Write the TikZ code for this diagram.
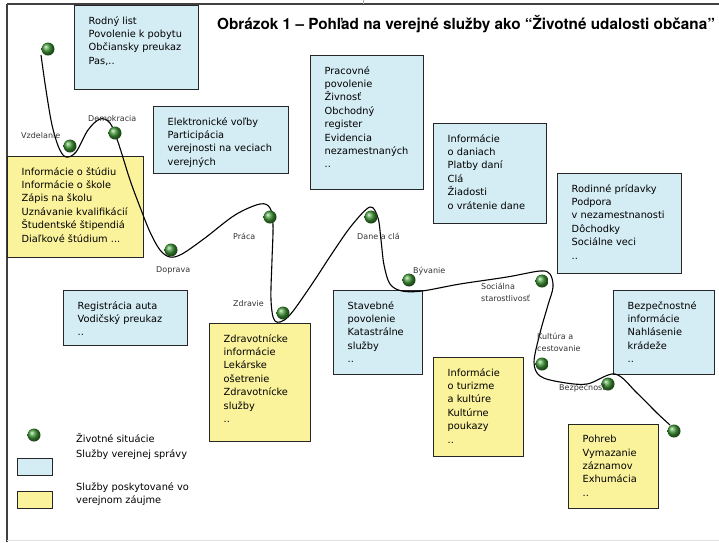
\documentclass[tikz,border=0pt]{standalone}
\usepackage{fontspec}
\setmainfont{DejaVu Sans}
\newfontfamily\titlefont{TeX Gyre Heros}

\definecolor{svcblue}{HTML}{D4ECF3}
\definecolor{svcyellow}{HTML}{FBF39C}
\definecolor{ballgreen}{RGB}{62,150,52}

\begin{document}
\begin{tikzpicture}[x=1pt,y=-1pt,
  bluebox/.style={draw=black!85, line width=1.2pt, fill=svcblue, anchor=north west, inner sep=0pt},
  yellowbox/.style={draw=black!85, line width=1.2pt, fill=svcyellow, anchor=north west, inner sep=0pt},
  boxtext/.style={anchor=north west, inner sep=0pt, align=left, font=\fontsize{9.8}{13.4}\selectfont},
  sitlabel/.style={inner sep=0pt, text=black!80, align=left, font=\fontsize{8}{12}\selectfont},
  lifeball/.style={circle, inner sep=0pt, minimum size=13pt, shading=ball, ball color=ballgreen}]
\useasboundingbox (0,0) rectangle (719,542);

% frame
\draw[line width=1.4pt, black!75] (7,4) -- (719,4);
\draw[line width=1.4pt, black!75] (7,4) -- (7,542);
\draw[line width=0.8pt, black!12] (7,540) -- (719,540);
\draw[line width=0.6pt, black!30] (363,0) -- (363,4);

% title
\node[anchor=base west, inner sep=0pt, font=\titlefont\bfseries\fontsize{15.3}{18}\selectfont] (title) at (217,29)
  {Obrázok 1 – Pohľad na verejné služby ako “Životné udalosti občana”};

% service boxes
\node[bluebox, minimum width=124pt, minimum height=84pt] (rodny) at (74,5) {};
\node[bluebox, minimum width=135pt, minimum height=67pt] (volby) at (153,106) {};
\node[bluebox, minimum width=113pt, minimum height=134pt] (praca) at (310,55) {};
\node[bluebox, minimum width=113pt, minimum height=100pt] (dane) at (433,123) {};
\node[bluebox, minimum width=124pt, minimum height=100pt] (socialne) at (557,173) {};
\node[yellowbox, minimum width=136pt, minimum height=101pt] (studium) at (7,156) {};
\node[bluebox, minimum width=124pt, minimum height=55pt] (auto) at (63,290) {};
\node[yellowbox, minimum width=101pt, minimum height=118pt] (zdravie) at (209,323) {};
\node[bluebox, minimum width=89pt, minimum height=84pt] (byvanie) at (333,290) {};
\node[yellowbox, minimum width=90pt, minimum height=99pt] (kultura) at (433,357) {};
\node[bluebox, minimum width=101pt, minimum height=84pt] (bezpecnost) at (613,290) {};
\node[yellowbox, minimum width=90pt, minimum height=84pt] (pohreb) at (568,424) {};

% box texts
\node[boxtext] (rodnyT) at ([shift={(14.5,11)}]rodny.north west)
  {Rodný list\\Povolenie k pobytu\\Občiansky preukaz\\Pas,..};
\node[boxtext] (volbyT) at ([shift={(14.5,11)}]volby.north west)
  {Elektronické voľby\\Participácia\\verejnosti na veciach\\verejných};
\node[boxtext] (pracaT) at ([shift={(14.5,11)}]praca.north west)
  {Pracovné\\povolenie\\Živnosť\\Obchodný\\register\\Evidencia\\nezamestnaných\\..};
\node[boxtext] (daneT) at ([shift={(14.5,11)}]dane.north west)
  {Informácie\\o daniach\\Platby daní\\Clá\\Žiadosti\\o vrátenie dane};
\node[boxtext] (socialneT) at ([shift={(14.5,11)}]socialne.north west)
  {Rodinné prídavky\\Podpora\\v nezamestnanosti\\Dôchodky\\Sociálne veci\\..};
\node[boxtext] (studiumT) at ([shift={(14.5,11)}]studium.north west)
  {Informácie o štúdiu\\Informácie o škole\\Zápis na školu\\Uznávanie kvalifikácií\\Študentské štipendiá\\Diaľkové štúdium ...};
\node[boxtext] (autoT) at ([shift={(14.5,11)}]auto.north west)
  {Registrácia auta\\Vodičský preukaz\\..};
\node[boxtext] (zdravieT) at ([shift={(14.5,11)}]zdravie.north west)
  {Zdravotnícke\\informácie\\Lekárske\\ošetrenie\\Zdravotnícke\\služby\\..};
\node[boxtext] (byvanieT) at ([shift={(14.5,11)}]byvanie.north west)
  {Stavebné\\povolenie\\Katastrálne\\služby\\..};
\node[boxtext] (kulturaT) at ([shift={(14.5,11)}]kultura.north west)
  {Informácie\\o turizme\\a kultúre\\Kultúrne\\poukazy\\..};
\node[boxtext] (bezpecnostT) at ([shift={(14.5,11)}]bezpecnost.north west)
  {Bezpečnostné\\informácie\\Nahlásenie\\krádeže\\..};
\node[boxtext] (pohrebT) at ([shift={(14.5,11)}]pohreb.north west)
  {Pohreb\\Vymazanie\\záznamov\\Exhumácia\\..};

% the path of life
\draw[line width=1.1pt] plot[smooth, tension=0.55] coordinates {
  (41,55) (46,90) (52,125) (59,148) (66,157) (76,152) (88,130) (100,119)
  (110,123) (118,142) (130,180) (140,207) (150,232) (160,250) (170,257)
  (182,254) (205,238) (235,215) (260,204) (270,208) (273,225) (272,260)
  (271,300) (275,321) (288,317) (310,287) (333,252) (352,225) (370,207)
  (378,218) (381,240) (384,265) (390,284) (402,291) (422,291) (460,284)
  (507,277) (540,271) (550,274) (553,287) (548,305) (540,333) (534,362)
  (540,376) (560,382) (587,384) (615,374) (637,393) (657,413) (670,425)};

% life situations
\node[lifeball] (start) at (48,49) {};
\node[lifeball] (vzdelanie) at (70,146) {};
\node[lifeball] (demokracia) at (115,133) {};
\node[lifeball] (doprava) at (171,250) {};
\node[lifeball] (prace) at (270,217) {};
\node[lifeball] (zdravotnictvo) at (283,313) {};
\node[lifeball] (dan) at (371,217) {};
\node[lifeball] (byvanieB) at (409,280) {};
\node[lifeball] (starostlivost) at (542,281) {};
\node[lifeball] (cestovanie) at (542,364) {};
\node[lifeball] (bezpecnostB) at (608,384) {};
\node[lifeball] (koniec) at (674,431) {};

\node[sitlabel, anchor=base west] (vzdelanieL) at (21,138) {Vzdelanie};
\node[sitlabel, anchor=base west] (demokraciaL) at (88,121) {Demokracia};
\node[sitlabel, anchor=base west] (dopravaL) at (156,272) {Doprava};
\node[sitlabel, anchor=base west] (pracaL) at (233,239) {Práca};
\node[sitlabel, anchor=base west] (zdravieL) at (233,306) {Zdravie};
\node[sitlabel, anchor=base west] (daneL) at (357,239) {Dane a clá};
\node[sitlabel, anchor=base west] (byvanieL) at (413,273) {Bývanie};
\node[sitlabel, anchor=north west] (socialneL) at (481,283) {Sociálna\\starostlivosť};
\node[sitlabel, anchor=north west] (kulturaL) at (537,333) {Kultúra a\\cestovanie};
\node[sitlabel, anchor=base west] (bezpecnostL) at (559,390) {Bezpečnosť};

% legend
\node[lifeball] (legBall) at (34,435) {};
\node[bluebox, minimum width=35pt, minimum height=17pt] (legBlue) at (17,458) {};
\node[yellowbox, minimum width=35pt, minimum height=17pt] (legYellow) at (17,491) {};
\node[boxtext] (legText1) at (76,433.5) {Životné situácie\\[1.6pt]Služby verejnej správy};
\node[boxtext] (legText2) at (76,482.5) {Služby poskytované vo\\verejnom záujme};
\end{tikzpicture}
\end{document}
